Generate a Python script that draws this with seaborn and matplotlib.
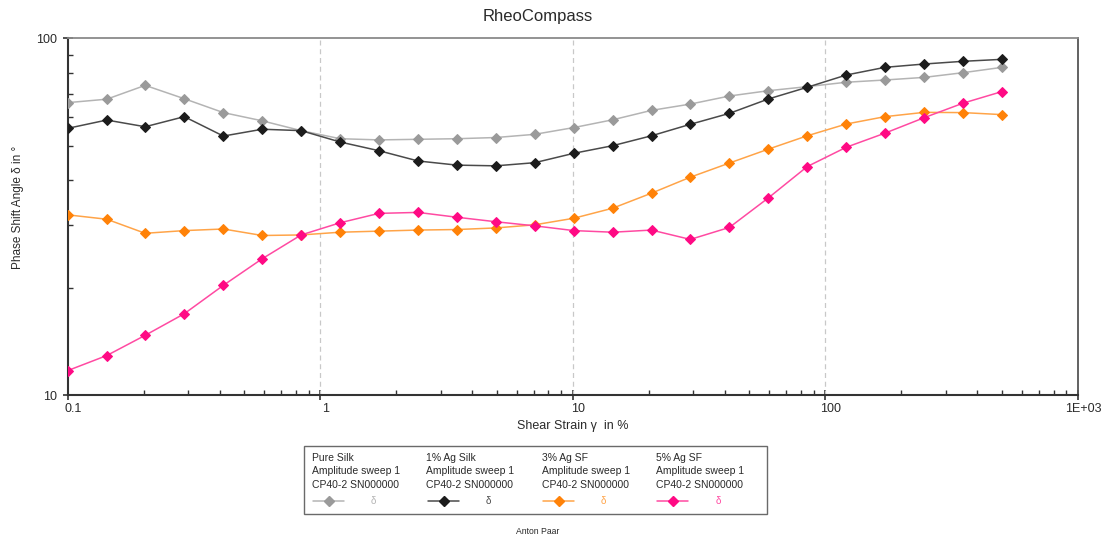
import numpy as np
import pandas as pd
import matplotlib
matplotlib.use("Agg")
import matplotlib.pyplot as plt
from matplotlib.lines import Line2D
from matplotlib.patches import Rectangle
from matplotlib.ticker import LogLocator, FixedLocator, FixedFormatter, NullFormatter
from matplotlib.transforms import ScaledTranslation
import seaborn as sns

# Shear strain (%) of the amplitude sweep
strain = [0.1, 0.143, 0.203, 0.29, 0.414, 0.59, 0.841, 1.2, 1.71, 2.44, 3.48, 4.96,
          7.07, 10.1, 14.4, 20.5, 29.2, 41.7, 59.5, 84.8, 121, 172, 246, 351, 500]

# Phase shift angle (deg) per sample
pure_silk = [66.0, 67.5, 73.8, 67.7, 61.9, 58.7, 55.1, 52.3, 51.9, 52.1, 52.3, 52.7,
             53.8, 56.2, 59.1, 62.8, 65.4, 68.9, 71.3, 73.2, 75.3, 76.4, 77.7, 80.1, 82.9]
ag1_silk = [55.9, 59.0, 56.5, 60.3, 53.2, 55.6, 55.1, 51.2, 48.4, 45.3, 44.1, 43.9,
            44.8, 47.6, 50.0, 53.3, 57.4, 61.6, 67.6, 72.9, 78.9, 82.9, 84.7, 86.2, 87.3]
ag3_sf = [32.0, 31.1, 28.4, 28.9, 29.2, 28.0, 28.1, 28.6, 28.8, 29.0, 29.1, 29.4,
          30.0, 31.3, 33.4, 36.8, 40.8, 44.7, 48.9, 53.3, 57.5, 60.3, 62.0, 61.9, 61.1]
ag5_sf = [11.7, 12.9, 14.7, 16.9, 20.3, 24.1, 28.1, 30.4, 32.3, 32.5, 31.5, 30.6,
          29.8, 28.9, 28.6, 29.0, 27.3, 29.5, 35.7, 43.7, 49.5, 54.2, 59.9, 65.8, 70.9]

sample_names = ["Pure Silk", "1% Ag Silk", "3% Ag SF", "5% Ag SF"]
x_tick_values = [0.1, 1, 10, 100, 1000]
x_tick_labels = ["0.1", "1", "10", "100", "1E+03"]
y_tick_values = [10, 100]
y_tick_labels = ["10", "100"]

line_colors = ["#b4b4b4", "#4a4a4a", "#ffa448", "#ff4aa2"]
marker_colors = ["#9a9a9a", "#1c1c1c", "#ff8208", "#ff0a84"]

sns.set_style("white")
plt.rcParams["font.family"] = ["Liberation Sans", "DejaVu Sans"]
text_color = "#2a2a2a"

df = pd.DataFrame({
    "strain": strain * 4,
    "delta": pure_silk + ag1_silk + ag3_sf + ag5_sf,
    "sample": sum([[n] * len(strain) for n in sample_names], []),
})

fig = plt.figure(figsize=(11.09, 5.44), dpi=100)
W, H = 1109, 544
ax = fig.add_axes([67.5 / W, 1 - 395 / H, (1078 - 67.5) / W, (395 - 38.3) / H])

for name, lc, mc in zip(sample_names, line_colors, marker_colors):
    sub = df[df["sample"] == name]
    sns.lineplot(data=sub, x="strain", y="delta", ax=ax, color=lc, linewidth=1.1,
                 marker="D", markersize=4.9, markerfacecolor=mc, markeredgecolor=mc,
                 estimator=None, sort=False, legend=False, zorder=3)

ax.set_xscale("log")
ax.set_yscale("log")
ax.set_xlim(0.1, 1000)
ax.set_ylim(10, 100)

# dashed decade lines
for xv in [1, 10, 100]:
    ax.axvline(xv, color="#c8c8c8", linestyle=(0, (4, 3)), linewidth=0.9, zorder=1)

ax.xaxis.set_major_locator(FixedLocator(x_tick_values))
ax.xaxis.set_major_formatter(FixedFormatter(x_tick_labels))
ax.xaxis.set_minor_locator(LogLocator(base=10, subs=np.arange(2, 10)))
ax.xaxis.set_minor_formatter(NullFormatter())
ax.yaxis.set_major_locator(FixedLocator(y_tick_values))
ax.yaxis.set_major_formatter(FixedFormatter(y_tick_labels))
ax.yaxis.set_minor_locator(LogLocator(base=10, subs=np.arange(2, 10)))
ax.yaxis.set_minor_formatter(NullFormatter())

ax.tick_params(which="both", bottom=True, left=True, top=False, right=False)
ax.tick_params(which="major", direction="inout", length=7, width=1.2,
               color="#333333", labelsize=9, labelcolor=text_color)
ax.tick_params(axis="x", which="major", pad=2)
ax.tick_params(axis="y", which="major", pad=4)
ax.tick_params(which="minor", direction="in", length=3.5, width=1.0, color="#333333")
ax.set_xlabel("")
ax.set_ylabel("")

ax.spines["left"].set_color("#333333")
ax.spines["left"].set_linewidth(1.5)
ax.spines["bottom"].set_color("#333333")
ax.spines["bottom"].set_linewidth(1.5)
ax.spines["right"].set_color("#555555")
ax.spines["right"].set_linewidth(1.3)
ax.spines["top"].set_color("#8a8a8a")
ax.spines["top"].set_linewidth(1.3)

# x tick labels sit slightly to the right of their ticks
offset = ScaledTranslation(4 / 72, 0, fig.dpi_scale_trans)
for lab in ax.get_xticklabels():
    lab.set_transform(lab.get_transform() + offset)

fig.text(537.5 / W, 1 - 17 / H, "RheoCompass", ha="center", va="center",
         fontsize=12, color=text_color)
fig.text(573 / W, 1 - 426 / H, "Shear Strain γ  in %", ha="center", va="center",
         fontsize=9, color=text_color)
fig.text(18 / W, 1 - 207 / H, "Phase Shift Angle δ in °", ha="center", va="center",
         rotation=90, fontsize=8.5, color=text_color)


def fx(px):
    return px / W


def fy(py):
    return 1 - py / H


# legend box
fig.patches.append(Rectangle((fx(304), fy(514)), fx(767) - fx(304), fy(446) - fy(514),
                             transform=fig.transFigure, fill=False,
                             edgecolor="#6a6a6a", linewidth=1.0))
col_x = [311.5, 426.5, 541.5, 656.0]
for cx, name, lc, mc in zip(col_x, sample_names, line_colors, marker_colors):
    for ry, txt in zip([458, 471.5, 484.5], [name, "Amplitude sweep 1", "CP40-2 SN000000"]):
        fig.text(fx(cx), fy(ry), txt, ha="left", va="center", fontsize=7.5, color=text_color)
    fig.lines.append(Line2D([fx(cx + 1), fx(cx + 32)], [fy(501), fy(501)],
                            transform=fig.transFigure, color=lc, linewidth=1.1))
    fig.lines.append(Line2D([fx(cx + 17)], [fy(501)], transform=fig.transFigure,
                            marker="D", markersize=4.9, markerfacecolor=mc,
                            markeredgecolor=mc, linestyle="none"))
    fig.text(fx(cx + 62), fy(501), "δ", ha="center", va="center", fontsize=7, color=lc)

fig.text(fx(538), fy(532), "Anton Paar", ha="center", va="center", fontsize=6.2,
         color=text_color)

fig.savefig("out.png", dpi=100)
